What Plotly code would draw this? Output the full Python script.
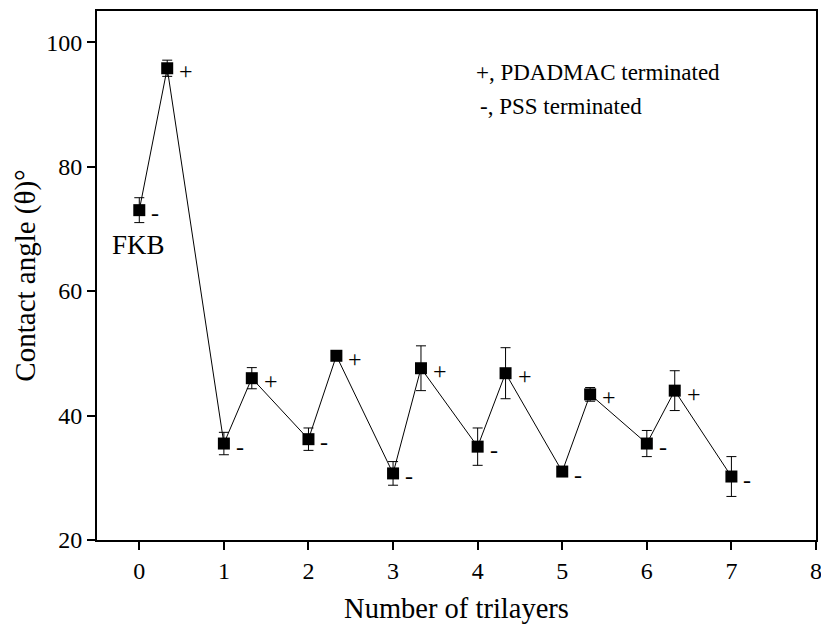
import plotly.graph_objects as go

# Contact angle after each deposition step (0 = bare FKB substrate)
trilayers = [0, 0.33, 1, 1.33, 2, 2.33, 3, 3.33, 4, 4.33, 5, 5.33, 6, 6.33, 7]
contact_angle = [73.0, 95.8, 35.5, 46.0, 36.2, 49.6, 30.7, 47.6, 35.0, 46.8, 31.0, 43.4, 35.5, 44.0, 30.2]
angle_err = [2.0, 1.3, 1.8, 1.7, 1.8, 0.5, 1.9, 3.6, 3.0, 4.1, 0.3, 1.1, 2.1, 3.2, 3.2]
terminal_sign = ["-", "+", "-", "+", "-", "+", "-", "+", "-", "+", "-", "+", "-", "+", "-"]

x_ticks = [0, 1, 2, 3, 4, 5, 6, 7, 8]
y_ticks = [20, 40, 60, 80, 100]

FONT = "Liberation Serif"

fig = go.Figure()
fig.add_trace(go.Scatter(
    x=trilayers,
    y=contact_angle,
    mode="lines+markers",
    line=dict(color="black", width=1),
    marker=dict(symbol="square", size=12, color="black"),
    error_y=dict(type="data", array=angle_err, visible=True,
                 color="black", thickness=1, width=5),
    showlegend=False,
))

# "+" / "-" tags beside each point
for xv, yv, s in zip(trilayers, contact_angle, terminal_sign):
    fig.add_annotation(x=xv, y=yv, text=s, showarrow=False,
                       xshift=19 if s == "+" else 16, yshift=-3,
                       font=dict(family=FONT, size=24, color="black"))

fig.add_annotation(x=trilayers[0], y=contact_angle[0], text="FKB", showarrow=False,
                   xshift=-1, yshift=-35,
                   font=dict(family=FONT, size=27, color="black"))

fig.add_annotation(x=0.524, y=0.883, xref="x domain", yref="y domain", text="+, PDADMAC terminated",
                   showarrow=False, xanchor="left", yanchor="middle",
                   font=dict(family=FONT, size=23, color="black"))
fig.add_annotation(x=0.530, y=0.820, xref="x domain", yref="y domain", text="-, PSS terminated",
                   showarrow=False, xanchor="left", yanchor="middle",
                   font=dict(family=FONT, size=23, color="black"))

axis_common = dict(
    showgrid=False, zeroline=False, automargin=False, ticklabeloverflow="allow",
    showline=True, linecolor="black", linewidth=2, mirror=True,
    ticks="outside", ticklen=8, tickwidth=2, tickcolor="black",
    tickfont=dict(family=FONT, size=24, color="black"),
)

fig.update_xaxes(range=[-0.5, 8], tickvals=x_ticks,
                 title=dict(text="Number of trilayers", font=dict(family=FONT, size=28.5, color="black"), standoff=18),
                 **axis_common)
fig.update_yaxes(range=[20, 105], tickvals=y_ticks,
                 title=dict(text="Contact angle (θ)°", font=dict(family=FONT, size=29, color="black"), standoff=2),
                 **axis_common)

fig.update_layout(
    width=821, height=624,
    margin=dict(l=97, r=5, t=11, b=84),
    plot_bgcolor="white", paper_bgcolor="white",
    font=dict(family=FONT, color="black"),
)

fig.write_html("out.html")
